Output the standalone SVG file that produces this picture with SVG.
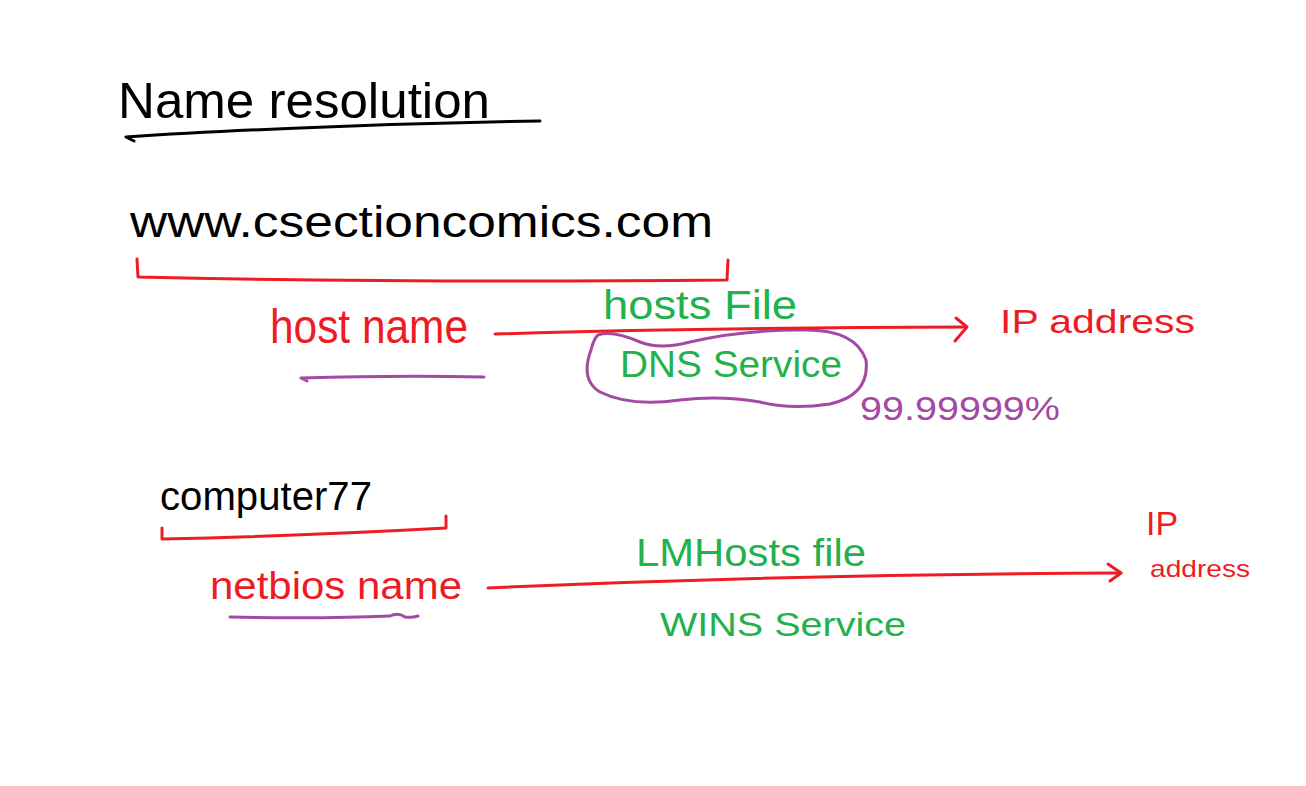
<svg xmlns="http://www.w3.org/2000/svg" width="1306" height="786" viewBox="0 0 1306 786">
<style>
text{font-family:"Liberation Sans","DejaVu Sans",sans-serif;}
.k{fill:#000}
.r{fill:#ed1c24}
.g{fill:#22b14c}
.p{fill:#a349a4}
.ln{fill:none;stroke-width:3;stroke-linecap:round;stroke-linejoin:round}
.lk{stroke:#000}
.lr{stroke:#ed1c24}
.lp{stroke:#a349a4}
</style>
<rect width="1306" height="786" fill="#fff"/>
<g id="title">
<text class="k" x="118" y="118" font-size="50" textLength="372" lengthAdjust="spacingAndGlyphs">Name resolution</text>
<path class="ln lk" d="M134 141 L126 137 Q200 132 300 128 Q420 123 540 121"/>
</g>
<g id="domain">
<text class="k" x="130" y="237" font-size="44" textLength="583" lengthAdjust="spacingAndGlyphs">www.csectioncomics.com</text>
<path class="ln lr" d="M137 259 L138 277 Q400 283 727 280 L728 260"/>
</g>
<g id="hostname">
<text class="r" x="270" y="343" font-size="48" textLength="198" lengthAdjust="spacingAndGlyphs">host name</text>
<path class="ln lp" d="M307 381 L301 378 Q400 375 484 377"/>
</g>
<g id="hostsfile">
<text class="g" x="603" y="319" font-size="40" textLength="194" lengthAdjust="spacingAndGlyphs">hosts File</text>
</g>
<g id="dns">
<path class="ln lp" d="M598 335 Q612 330 640 342 Q660 350 690 342 Q740 330 800 330 Q855 328 866 360 Q870 395 830 404 Q790 410 760 402 Q720 395 680 400 Q630 407 600 392 Q580 380 591 350 Q594 338 598 335 Z"/>
<text class="g" x="620" y="377" font-size="36" textLength="222" lengthAdjust="spacingAndGlyphs">DNS Service</text>
</g>
<g id="percent">
<text class="p" x="860" y="420" font-size="34" textLength="200" lengthAdjust="spacingAndGlyphs">99.99999%</text>
</g>
<g id="ip1">
<text class="r" x="1000" y="333" font-size="34" textLength="195" lengthAdjust="spacingAndGlyphs">IP address</text>
</g>
<g id="computer">
<text class="k" x="160" y="510" font-size="40" textLength="212" lengthAdjust="spacingAndGlyphs">computer77</text>
<path class="ln lr" d="M162 528 L162 539 Q300 536 446 528 L446 516"/>
</g>
<g id="netbios">
<text class="r" x="210" y="599" font-size="38" textLength="252" lengthAdjust="spacingAndGlyphs">netbios name</text>
<path class="ln lp" d="M230 617 Q320 619 390 616 Q398 612 405 617 Q412 618 418 616"/>
</g>
<g id="lmhosts">
<text class="g" x="636" y="566" font-size="38" textLength="230" lengthAdjust="spacingAndGlyphs">LMHosts file</text>
</g>
<g id="wins">
<text class="g" x="660" y="636" font-size="34" textLength="246" lengthAdjust="spacingAndGlyphs">WINS Service</text>
</g>
<g id="ip2">
<text class="r" x="1146" y="535" font-size="34" textLength="32" lengthAdjust="spacingAndGlyphs">IP</text>
<text class="r" x="1150" y="577" font-size="24" textLength="100" lengthAdjust="spacingAndGlyphs">address</text>
</g>
<g id="connectors">
<path class="ln lr" d="M495 334 Q700 328 966 327"/>
<path class="ln lr" d="M956 318 L967 327 L955 341"/>
<path class="ln lr" d="M488 588 Q800 574 1121 573"/>
<path class="ln lr" d="M1108 564 L1121 573 L1110 581"/>
</g>
</svg>
